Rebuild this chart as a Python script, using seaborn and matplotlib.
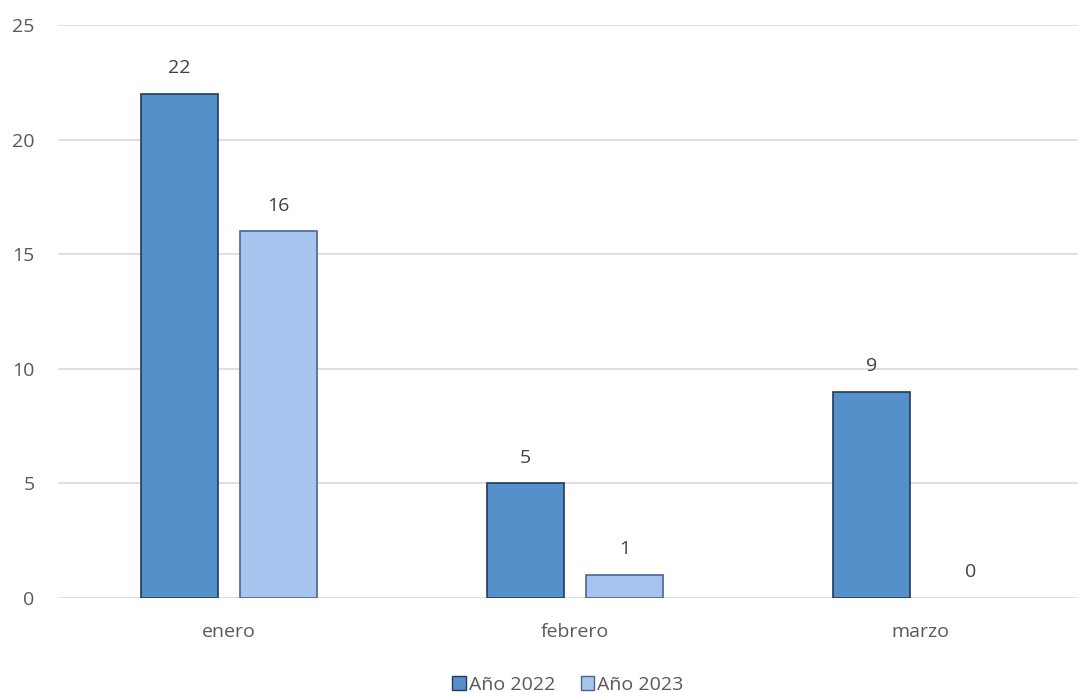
import matplotlib
matplotlib.use("Agg")
import matplotlib.pyplot as plt
import seaborn as sns
import pandas as pd

# data
meses = ["enero", "febrero", "marzo"]
anio_2022 = [22, 5, 9]
anio_2023 = [16, 1, 0]
series = ["Año 2022", "Año 2023"]
colores = ["#5590CB", "#A6C4EE"]
bordes = ["#1F3A5A", "#4A6690"]

df = pd.DataFrame({
    "mes": meses * 2,
    "valor": anio_2022 + anio_2023,
    "serie": [series[0]] * 3 + [series[1]] * 3,
})

sns.set_theme(style="white")
plt.rcParams['font.family'] = ['Open Sans', 'DejaVu Sans']

fig = plt.figure(figsize=(10.8, 6.92), dpi=100)
ax = fig.add_axes([0.0537, 0.1358, 0.9444, 0.8281])

sns.barplot(data=df, x="mes", y="valor", hue="serie", order=meses,
            hue_order=series, palette=colores, saturation=1, width=0.572,
            gap=0.222, ax=ax, legend=True, zorder=3)

for cont, borde in zip(ax.containers, bordes):
    for b in cont:
        b.set_edgecolor(borde)
        b.set_linewidth(1.2 if b.get_height() > 0 else 0)
    ax.bar_label(cont, padding=12, fontsize=14, color="#404040")

ax.set_ylim(0, 25)
ax.set_xlim(-0.494, 2.454)
ax.set_yticks([0, 5, 10, 15, 20, 25])
ax.yaxis.grid(True, color="#D9D9D9", linewidth=1.2, zorder=0)
ax.set_axisbelow(True)
for s in ax.spines.values():
    s.set_visible(False)
ax.tick_params(axis="both", length=0, labelsize=14, labelcolor="#595959")
ax.tick_params(axis="y", pad=17)
ax.tick_params(axis="x", pad=18)
ax.set_xlabel("")
ax.set_ylabel("")

leg = ax.legend(loc="upper center", bbox_to_anchor=(0.5, -0.105), ncol=2,
                frameon=False, fontsize=14, handlelength=0.7, handleheight=0.7,
                handletextpad=0.15, columnspacing=1.3, labelcolor="#595959")
for h, borde in zip(leg.legend_handles, bordes):
    h.set_edgecolor(borde)

fig.savefig("out.png", dpi=100)
plt.close()
